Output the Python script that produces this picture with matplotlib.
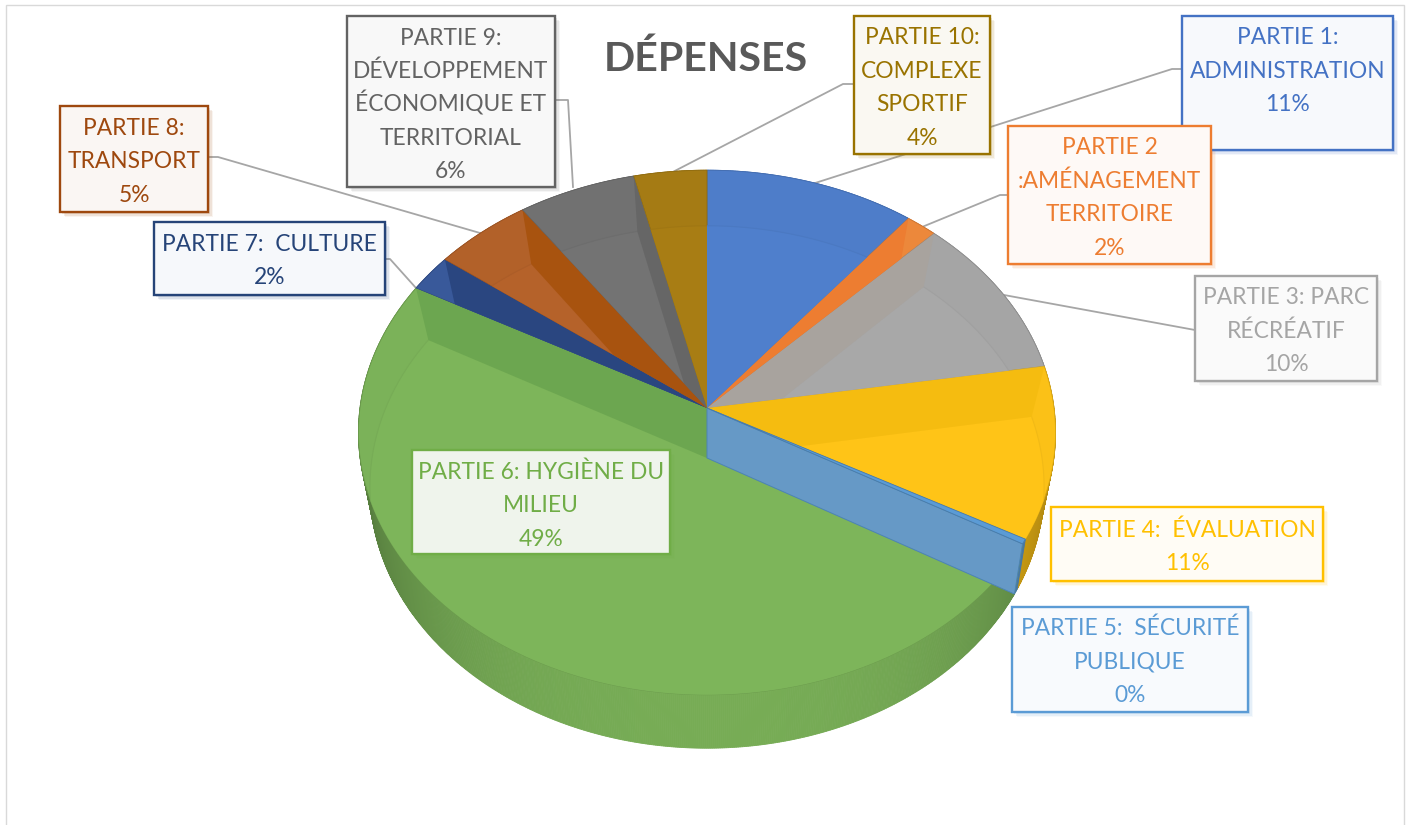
import numpy as np
import matplotlib
matplotlib.use("Agg")
import matplotlib.pyplot as plt
from matplotlib.patches import Rectangle

plt.rcParams['font.family'] = ['Lato', 'DejaVu Sans']

# ---- data ----
labels = ["PARTIE 1:\nADMINISTRATION\n11%",
          "PARTIE 2\n:AMÉNAGEMENT\nTERRITOIRE\n2%",
          "PARTIE 3: PARC\nRÉCRÉATIF\n10%",
          "PARTIE 4:  ÉVALUATION\n11%",
          "PARTIE 5:  SÉCURITÉ\nPUBLIQUE\n0%",
          "PARTIE 6: HYGIÈNE DU\nMILIEU\n49%",
          "PARTIE 7:  CULTURE\n2%",
          "PARTIE 8:\nTRANSPORT\n5%",
          "PARTIE 9:\nDÉVELOPPEMENT\nÉCONOMIQUE ET\nTERRITORIAL\n6%",
          "PARTIE 10:\nCOMPLEXE\nSPORTIF\n4%"]
values = [10.7, 1.6, 10.1, 10.6, 0.3, 49.7, 2.3, 5.0, 6.0, 3.7]
colors = ["#4F7FCC", "#F08A3C", "#A8A8A8", "#FFC417", "#5B9BD5",
          "#7DB55A", "#3A5A9C", "#B5622A", "#737373", "#A87D14"]
wall_colors = ["#4A78C4", "#ED7D31", "#A8A39E", "#F5BC10", "#6699C6",
               "#6CA650", "#2A4680", "#A8530F", "#666666", "#A67C12"]
line_colors = ["#4472C4", "#ED7D31", "#A5A5A5", "#FFC000", "#5B9BD5",
               "#70AD47", "#264478", "#9E480E", "#636363", "#997300"]

# ---- layout ----
W, H = 1411, 825
TOP = dict(cy=408, a=347, b=260, k=0.0933)
BOT = dict(cy=458, a=335, b=258, k=0.111)
CX = 707
LINE_STEP = 33.4
boxes = [(1182, 16, 1393, 150), (1008, 126, 1211, 264), (1195, 276, 1377, 381),
         (1051, 507, 1323, 581), (1012, 607, 1248, 712), (412, 450, 670, 554),
         (154, 222, 385, 295), (60, 106, 208, 212), (347, 16, 555, 187),
         (854, 16, 990, 154)]
text_centers = [69, 196, 329, 545, 660, 504, 259, 160, 103, 86]
box_fills = ["#F7F9FC", "#FEF9F6", "#FAFAFA", "#FFFCF5", "#F8FAFD",
             "#EFF4EC", "#F6F8FB", "#FAF6F3", "#F8F8F8", "#FAF8F2"]
leaders = [[(812, 184), (1172, 69), (1182, 69)],
           [(922, 227), (1000, 195), (1008, 195)],
           [(1004, 295), (1195, 330)],
           [(416, 288), (390, 259), (385, 259)],
           [(480, 233), (218, 157), (208, 157)],
           [(573, 187), (568, 100), (555, 100)],
           [(665, 176), (843, 84), (854, 84)]]


def proj(theta, r, d):
    u = r * np.sin(theta)
    v = r * np.cos(theta)
    den = 1 + d['k'] * v
    return CX + d['a'] * u / den, d['cy'] - d['b'] * v / den


def shade(c, f):
    rgb = np.array(matplotlib.colors.to_rgb(c))
    return tuple(np.clip(rgb * f, 0, 1))


fig = plt.figure(figsize=(W / 100, H / 100), dpi=100)
ax = fig.add_axes([0, 0, 1, 1])
ax.set_xlim(0, W)
ax.set_ylim(H, 0)
ax.axis('off')

ax.add_patch(Rectangle((6, 5), 1398, 840, fc='white', ec='#D9D9D9', lw=1, zorder=0))

for pts in leaders:
    xs, ys = zip(*pts)
    ax.plot(xs, ys, color='#A6A6A6', lw=1.3, zorder=1)

cum = np.concatenate([[0], np.cumsum(values)]) / np.sum(values) * 2 * np.pi

# outer walls
for i, c in enumerate(colors):
    ths = np.linspace(cum[i], cum[i + 1], max(3, int(values[i] * 12)))
    for t0, t1 in zip(ths[:-1], ths[1:]):
        x0, y0 = proj(t0, 1, TOP); x1, y1 = proj(t1, 1, TOP)
        x2, y2 = proj(t1, 1, BOT); x3, y3 = proj(t0, 1, BOT)
        f = 0.95 - 0.27 * abs(np.sin((t0 + t1) / 2)) ** 3
        col = shade(c, f)
        ax.fill([x0, x1, x2, x3], [y0, y1, y2, y3], fc=col, ec=col, lw=0.6, zorder=2)

# top faces, floors and cut walls
for i, c in enumerate(colors):
    ths = np.linspace(cum[i], cum[i + 1], max(4, int(values[i] * 6)))
    xr, yr = proj(ths, 1, TOP)
    poly = ax.fill(np.r_[CX, xr], np.r_[TOP['cy'], yr], fc=shade(c, 0.985),
                   ec=shade(c, 0.86), lw=0.6, zorder=3)[0]
    xb, yb = proj(ths, 1, BOT)
    fl = ax.fill(np.r_[CX, xb], np.r_[BOT['cy'], yb], fc=c, ec='none', zorder=3.1)[0]
    fl.set_clip_path(poly)
    rim = ax.plot(xb, yb, color=shade(c, 0.95), lw=0.8, zorder=3.2)[0]
    rim.set_clip_path(poly)
    for t in (cum[i], cum[i + 1]):
        xt, yt = proj(t, 1, TOP)
        xf, yf = proj(t, 1, BOT)
        w = ax.fill([CX, xt, xf, CX], [TOP['cy'], yt, yf, BOT['cy']],
                    fc=wall_colors[i], ec='none', zorder=3.3)[0]
        w.set_clip_path(poly)

# the thin slice has no room for its wall: it shows through the neighbours,
# with the sliver of its top face lying above it
i_thin = int(np.argmin(values))
xt, yt = proj(cum[i_thin + 1], 1, TOP)
xf, yf = proj(cum[i_thin + 1], 1, BOT)
ax.fill([CX, xt, xf, CX], [TOP['cy'], yt, yf, BOT['cy']],
        fc=wall_colors[i_thin], ec=shade(colors[i_thin], 0.85), lw=0.7, zorder=3.5)
ths = np.linspace(cum[i_thin], cum[i_thin + 1], 4)
xr, yr = proj(ths, 1, TOP)
ax.fill(np.r_[CX, xr], np.r_[TOP['cy'], yr], fc=colors[i_thin],
        ec=shade(colors[i_thin], 0.8), lw=0.6, zorder=3.6)

# labels
for lab, b, lc, fc, ty in zip(labels, boxes, line_colors, box_fills, text_centers):
    x0, y0, x1, y1 = b
    for off, al in ((5, 0.06), (3.5, 0.10), (2, 0.14)):
        ax.add_patch(Rectangle((x0 + off, y0 + off), x1 - x0, y1 - y0, fc=lc,
                               ec='none', alpha=al, zorder=5))
    ax.add_patch(Rectangle((x0, y0), x1 - x0, y1 - y0, fc=fc, ec=lc, lw=1.7, zorder=6))
    rows = lab.split("\n")
    for j, row in enumerate(rows):
        ax.text((x0 + x1) / 2, ty + (j - (len(rows) - 1) / 2) * LINE_STEP + 8.5, row,
                color=lc, fontsize=16.4, ha='center', va='baseline', zorder=7)

ax.text(706, 59, "DÉPENSES", color='#595959', fontsize=29.6, fontweight='bold',
        ha='center', va='center', zorder=4)

fig.savefig('out.png', dpi=100, facecolor='white')
